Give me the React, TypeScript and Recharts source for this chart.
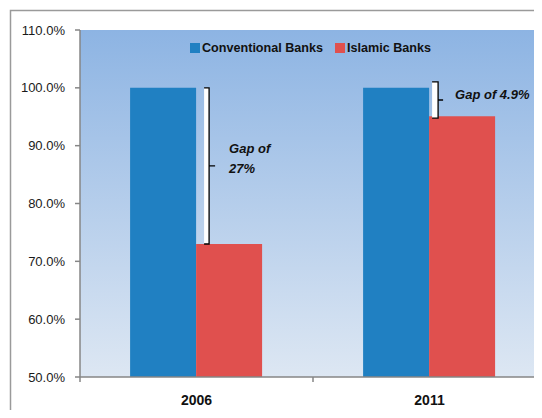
import { BarChart, Bar, XAxis, YAxis, CartesianGrid, Legend, LabelList } from "recharts";

// values
const categories = ["2006", "2011"];
const conventionalBanks = [100, 100];
const islamicBanks = [73, 95.1];
const yTicks = [50, 60, 70, 80, 90, 100, 110];
const gapLabels = [["Gap of", "27%"], ["Gap of 4.9%"]];

const series = [
    { key: "conventional", name: "Conventional Banks", color: "#2080C2" },
    { key: "islamic", name: "Islamic Banks", color: "#E0504E" },
];

const data = categories.map((year, i) => ({
    year,
    conventional: conventionalBanks[i],
    islamic: islamicBanks[i],
}));

const CHART_W = 546;
const CHART_H = 418;
const Y_AXIS_W = 80;
const MARGIN = { top: 30, right: 0, bottom: 11, left: 0 };
const bandWidth = (CHART_W - MARGIN.left - MARGIN.right - Y_AXIS_W) / categories.length;
const Y_MIN = yTicks[0];

const FONT = "'Liberation Sans', Arial, sans-serif";
const AXIS_GREY = "#868686";

// bracket look per category (offsets relative to the Islamic bar)
const bracketStyle = [
    { dx: 8, w: 5, top: 0, bottom: 0, tick: 6, textDx: 33 },
    { dx: 3, w: 6, top: -6, bottom: 2, tick: 5, textDx: 26 },
];

const GapLabel = (props: any) => {
    const vb = props.viewBox || props;
    const index: number = props.index;
    const x = Number(props.x ?? vb.x);
    const y = Number(props.y ?? vb.y);
    const height = Number(props.height ?? vb.height);
    const value = islamicBanks[index];
    const gap = conventionalBanks[index] - value;
    const ppu = height / (value - Y_MIN);
    const s = bracketStyle[index];
    const top = y - gap * ppu + s.top;
    const bottom = y + s.bottom;
    const x0 = x + s.dx;
    const x1 = x0 + s.w;
    const mid = (top + bottom) / 2;
    const lines = gapLabels[index];
    return (
        <g>
            <rect x={x0} y={top} width={s.w} height={bottom - top} fill="#fff" />
            <path
                d={`M${x0},${top}H${x1}V${bottom}H${x0}M${x1},${mid}H${x1 + s.tick}`}
                stroke="#000"
                strokeWidth={1.3}
                fill="none"
            />
            {lines.map((t, i) => (
                <text
                    key={t}
                    x={x + s.textDx}
                    y={lines.length > 1 ? mid - 13 + i * 20 : mid - 1.5}
                    fontFamily={FONT}
                    fontSize={13}
                    fontWeight="bold"
                    fontStyle="italic"
                    fill="#111"
                >
                    {t}
                </text>
            ))}
        </g>
    );
};

const YearTick = (props: any) => {
    const { x, y, payload, index } = props;
    const half = bandWidth / 2;
    return (
        <g>
            <line x1={x - half} x2={x - half} y1={y} y2={y + 5} stroke={AXIS_GREY} strokeWidth={1.5} />
            {index === categories.length - 1 && (
                <line x1={x + half} x2={x + half} y1={y} y2={y + 5} stroke={AXIS_GREY} strokeWidth={1.5} />
            )}
            <text x={x} y={y + 28} textAnchor="middle" fontFamily={FONT} fontSize={14} fontWeight="bold" fill="#111">
                {payload.value}
            </text>
        </g>
    );
};

const LegendContent = () => (
    <div style={{ display: "flex", alignItems: "center", fontFamily: FONT, fontSize: 12.6, fontWeight: "bold", color: "#111", whiteSpace: "nowrap" }}>
        {series.map((s, i) => (
            <div key={s.key} style={{ display: "flex", alignItems: "center", marginRight: i === 0 ? 12 : 0 }}>
                <span style={{ display: "inline-block", width: 10, height: 10, background: s.color, marginRight: 2 }} />
                <span>{s.name}</span>
            </div>
        ))}
    </div>
);

export default function App() {
    return (
        <div style={{ position: "relative", margin: -8, width: 542, height: 418, overflow: "hidden", background: "#fff" }}>
            <svg width={542} height={418} style={{ position: "absolute", left: 0, top: 0 }}>
                <rect x={10.5} y={10.5} width={600} height={500} fill="#fff" stroke="#9a9a9a" strokeWidth={1.5} />
                <text x={292} y={2} textAnchor="middle" fontFamily={FONT} fontSize={24} fontWeight="bold" fill="#111">
                    Cost Efficiency Gap
                </text>
            </svg>
            <div style={{ position: "absolute", left: 0, top: 0 }}>
                <BarChart
                    width={CHART_W}
                    height={CHART_H}
                    data={data}
                    margin={MARGIN}
                    barCategoryGap="21.5%"
                    barGap={0}
                >
                    <defs>
                        <linearGradient id="plotBg" x1="0" y1="0" x2="0" y2="1">
                            <stop offset="0" stopColor="#8DB4E3" />
                            <stop offset="1" stopColor="#DDE7F3" />
                        </linearGradient>
                    </defs>
                    <CartesianGrid horizontal={false} vertical={false} fill="url(#plotBg)" fillOpacity={1} stroke="none" />
                    <XAxis
                        dataKey="year"
                        height={30}
                        tickSize={0}
                        tickMargin={0}
                        tickLine={false}
                        tick={<YearTick />}
                        axisLine={{ stroke: AXIS_GREY, strokeWidth: 1.5 }}
                    />
                    <YAxis
                        width={Y_AXIS_W}
                        domain={[50, 110]}
                        ticks={yTicks}
                        interval={0}
                        tickSize={5}
                        tickMargin={10}
                        tickFormatter={(v: number) => v.toFixed(1) + "%"}
                        tick={{ fontFamily: FONT, fontSize: 13, fill: "#1a1a1a" }}
                        tickLine={{ stroke: AXIS_GREY, strokeWidth: 1.5 }}
                        axisLine={{ stroke: AXIS_GREY, strokeWidth: 1.5 }}
                    />
                    <Legend
                        layout="horizontal"
                        verticalAlign="middle"
                        align="center"
                        wrapperStyle={{ top: 41, left: 190, width: "auto" }}
                        content={<LegendContent />}
                    />
                    <Bar dataKey="conventional" name={series[0].name} fill={series[0].color} isAnimationActive={false} />
                    <Bar dataKey="islamic" name={series[1].name} fill={series[1].color} isAnimationActive={false}>
                        <LabelList dataKey="islamic" content={<GapLabel />} />
                    </Bar>
                </BarChart>
            </div>
        </div>
    );
}
